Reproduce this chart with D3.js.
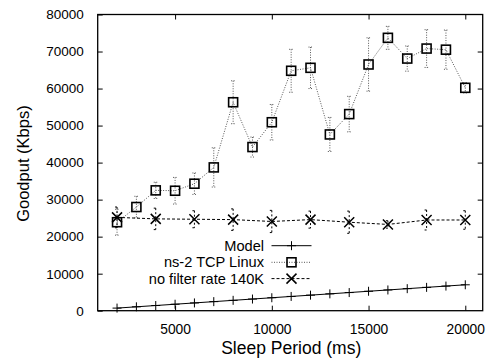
<!DOCTYPE html>
<html><head><meta charset="utf-8">
<script src="https://cdn.jsdelivr.net/npm/d3@7/dist/d3.min.js"></script>
<style>body{margin:0;background:#fff}svg{display:block}text{font-family:"Liberation Sans",Arial,sans-serif;fill:#000}</style>
</head><body><svg id="c" width="488" height="360"></svg>
<script>
const xTicks = [5000, 10000, 15000, 20000];
const yTicks = [0, 10000, 20000, 30000, 40000, 50000, 60000, 70000, 80000];

const modelX = [2000,3000,4000,5000,6000,7000,8000,9000,10000,11000,12000,13000,14000,15000,16000,17000,18000,19000,20000];
const modelY = [700,1050,1400,1750,2100,2450,2800,3150,3500,3850,4200,4550,4900,5250,5600,5950,6300,6650,7000];

const nsX = [2000,3000,4000,5000,6000,7000,8000,9000,10000,11000,12000,13000,14000,15000,16000,17000,18000,19000,20000];
const nsY = [23900,28000,32500,32400,34300,38700,56300,44200,50900,64800,65600,47600,53100,66500,73700,68100,70800,70500,60200];
const nsErr = [3500,2900,2200,3600,2900,5300,5800,2700,4800,5800,5600,4600,4800,7200,3100,3400,5100,5300,1400];

const nfX = [2000,4000,6000,8000,10000,12000,14000,16000,18000,20000];
const nfY = [25200,24800,24700,24600,24100,24600,23900,23300,24500,24500];
const nfErr = [2800,2900,2300,2900,3000,2300,3000,1000,2700,2500];

const seriesNames = ["Model", "ns-2 TCP Linux", "no filter rate 140K"];

const svg = d3.select("#c");
const L = 97.7, R = 482.7, T = 14.5, B = 310.7;
const x = d3.scaleLinear().domain([1000, 20900]).range([L, R]);
const y = d3.scaleLinear().domain([0, 80000]).range([B, T]);

// axes with inner ticks
const tl = 5;
svg.append("g").attr("transform", `translate(0,${B})`)
  .call(d3.axisBottom(x).tickValues(xTicks).tickSizeInner(-tl).tickSizeOuter(0).tickPadding(14).tickFormat(d3.format("d")))
  .call(g => { g.select(".domain").remove(); g.selectAll("text").style("font-size","13.8px"); });
svg.append("g").attr("transform", `translate(0,${T})`)
  .call(d3.axisTop(x).tickValues(xTicks).tickSizeInner(-tl).tickSizeOuter(0).tickFormat(""))
  .call(g => g.select(".domain").remove());
svg.append("g").attr("transform", `translate(${L},0)`)
  .call(d3.axisLeft(y).tickValues(yTicks).tickSizeInner(-tl).tickSizeOuter(0).tickPadding(14).tickFormat(d3.format("d")))
  .call(g => { g.select(".domain").remove(); g.selectAll("text").style("font-size","13.5px"); });
svg.append("g").attr("transform", `translate(${R},0)`)
  .call(d3.axisRight(y).tickValues(yTicks.slice(1,-1)).tickSizeInner(-tl).tickSizeOuter(0).tickFormat(""))
  .call(g => g.select(".domain").remove());
svg.append("rect").attr("x", L).attr("y", T).attr("width", R-L).attr("height", B-T)
  .attr("fill","none").attr("stroke","#000").attr("stroke-width",1.3);

svg.append("text").attr("x", (L+R)/2+1).attr("y", 354).attr("text-anchor","middle")
  .style("font-size","17.5px").text("Sleep Period (ms)");
svg.append("text").attr("transform", `translate(29,${(T+B)/2+1}) rotate(-90)`).attr("text-anchor","middle")
  .style("font-size","16.5px").text("Goodput (Kbps)");

const g = svg.append("g");
const line = d3.line();

// error bars
function errBars(xs, ys, es, dash, color) {
  xs.forEach((xv, i) => {
    const cx = x(xv), y1 = y(ys[i]+es[i]), y2 = y(ys[i]-es[i]);
    g.append("line").attr("x1",cx).attr("x2",cx).attr("y1",y1).attr("y2",y2)
      .attr("stroke",color).attr("stroke-width",1).attr("stroke-dasharray",dash);
    [y1,y2].forEach(yy => g.append("line").attr("x1",cx-2).attr("x2",cx+2).attr("y1",yy).attr("y2",yy)
      .attr("stroke",color).attr("stroke-width",1).attr("stroke-dasharray",dash));
  });
}
errBars(nsX, nsY, nsErr, "1,1.5", "#555");
errBars(nfX, nfY, nfErr, "2,2", "#000");

// model
g.append("path").attr("d", line(modelX.map((v,i)=>[x(v), y(modelY[i])])))
  .attr("fill","none").attr("stroke","#000").attr("stroke-width",1);
function plus(sel, cx, cy){ sel.append("path").attr("d",`M${cx-4.5},${cy}H${cx+4.5}M${cx},${cy-4.5}V${cy+4.5}`).attr("stroke","#000").attr("stroke-width",1); }
modelX.forEach((v,i)=> plus(g, x(v), y(modelY[i])));

// ns-2
g.append("path").attr("d", line(nsX.map((v,i)=>[x(v), y(nsY[i])])))
  .attr("fill","none").attr("stroke","#555").attr("stroke-width",1).attr("stroke-dasharray","1,1.5");
function square(sel, cx, cy){ sel.append("rect").attr("x",cx-4.5).attr("y",cy-4.5).attr("width",9).attr("height",9).attr("fill","none").attr("stroke","#000").attr("stroke-width",1.6); }
nsX.forEach((v,i)=> square(g, x(v), y(nsY[i])));

// no filter
g.append("path").attr("d", line(nfX.map((v,i)=>[x(v), y(nfY[i])])))
  .attr("fill","none").attr("stroke","#000").attr("stroke-width",1).attr("stroke-dasharray","3,2");
function cross(sel, cx, cy){ sel.append("path").attr("d",`M${cx-5},${cy-5}L${cx+5},${cy+5}M${cx-5},${cy+5}L${cx+5},${cy-5}`).attr("stroke","#000").attr("stroke-width",1.5); }
nfX.forEach((v,i)=> cross(g, x(v), y(nfY[i])));

// legend
const lg = svg.append("g");
const rows = [245.7, 262.3, 278.6];
const styles = [{dash:null,color:"#000",m:plus},{dash:"1,1.5",color:"#555",m:square},{dash:"3,2",color:"#000",m:cross}];
seriesNames.forEach((n,i)=>{
  lg.append("text").attr("x",264).attr("y",rows[i]+5).attr("text-anchor","end").style("font-size","14.6px").text(n);
  const ln = lg.append("line").attr("x1",271.5).attr("x2",311.5).attr("y1",rows[i]).attr("y2",rows[i])
    .attr("stroke",styles[i].color).attr("stroke-width",1);
  if (styles[i].dash) ln.attr("stroke-dasharray",styles[i].dash);
  styles[i].m(lg, 291.5, rows[i]);
});
</script></body></html>
